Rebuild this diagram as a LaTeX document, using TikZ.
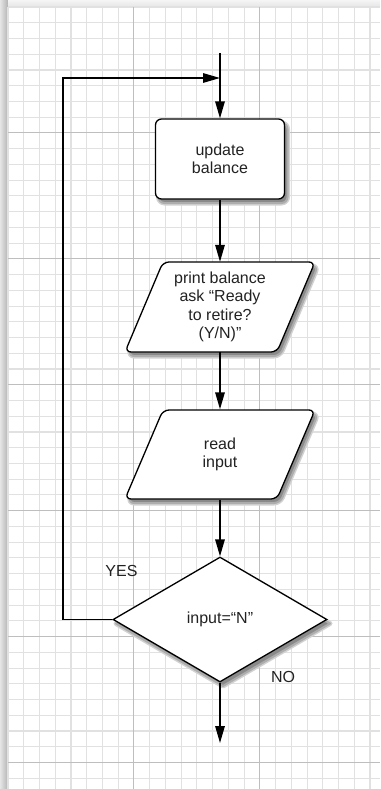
\documentclass[tikz,border=0pt]{standalone}
\usepackage{fontspec}
\setmainfont{Liberation Sans}
\usetikzlibrary{arrows.meta,shapes.geometric,calc}
\definecolor{minorgrid}{HTML}{E1E1E1}
\definecolor{majorgrid}{HTML}{BEBEBE}
\definecolor{inktext}{HTML}{222222}
\definecolor{shadowdark}{HTML}{8A8A8A}
\definecolor{shadowlight}{HTML}{D2D2D2}
\tikzset{
  flowline/.style={line width=1.5pt, draw=black},
  arr/.style={flowline, -{Triangle[length=17pt,width=9.5pt]}},
  shadowhalo/.style={draw=shadowlight, line width=5pt, line join=round},
  shadowcore/.style={fill=shadowdark, draw=shadowdark!70!white, line width=2pt, line join=round},
  txt/.style={font=\fontsize{16}{18.3}\selectfont, text=inktext, align=center},
  procbox/.style={txt, draw=black, line width=1.3pt, fill=white, rounded corners=6pt, minimum width=129pt, minimum height=80pt, inner sep=0pt},
  iotext/.style={txt, inner sep=0pt, minimum width=114pt, minimum height=90pt},
  iofill/.style={draw=black, line width=1.3pt, fill=white, rounded corners=6pt},
  decision/.style={txt, diamond, draw=black, line width=1.3pt, fill=white, aspect=1.7, minimum width=214pt, minimum height=125pt, inner sep=0pt},
  lbl/.style={txt, inner sep=0pt},
  minorline/.style={draw=minorgrid, line width=1.1pt},
  majorline/.style={draw=majorgrid, line width=1.1pt},
}
\begin{document}
\begin{tikzpicture}[x=1pt,y=-1pt]
\useasboundingbox (0,0) rectangle (380,789);
% paper and grid
\fill[white] (0,0) rectangle (380,789);
\shade[left color=black!10, right color=black!30] (0,0) rectangle (8,789);
\shade[top color=black!4, bottom color=black!10] (8,0) rectangle (380,7);
\foreach \k in {0,...,23} {
  \pgfmathsetmacro\xx{8+\k*15.74}
  \draw[minorline] (\xx,7) -- (\xx,789);
}
\foreach \k in {0,...,49} {
  \pgfmathsetmacro\yy{7+\k*15.74}
  \draw[minorline] (8,\yy) -- (380,\yy);
}
\foreach \k in {8,16} {
  \pgfmathsetmacro\xx{8+\k*15.74}
  \draw[majorline] (\xx,7) -- (\xx,789);
}
\foreach \k in {8,16,24,32,40,48} {
  \pgfmathsetmacro\yy{7+\k*15.74}
  \draw[majorline] (8,\yy) -- (380,\yy);
}

% drop shadows (offset right and down)
\path[shadowhalo, rounded corners=6pt] (158.5,123) rectangle (287.5,203);
\path[shadowhalo, rounded corners=6pt] (166,266) -- (318,266) -- (280,356) -- (128,356) -- cycle;
\path[shadowhalo, rounded corners=6pt] (166,414) -- (318,414) -- (280,503) -- (128,503) -- cycle;
\path[shadowhalo] (223,561) -- (330,623.5) -- (223,686) -- (116,623.5) -- cycle;
\path[shadowcore, rounded corners=6pt] (158.5,123) rectangle (287.5,203);
\path[shadowcore, rounded corners=6pt] (166,266) -- (318,266) -- (280,356) -- (128,356) -- cycle;
\path[shadowcore, rounded corners=6pt] (166,414) -- (318,414) -- (280,503) -- (128,503) -- cycle;
\path[shadowcore] (223,561) -- (330,623.5) -- (223,686) -- (116,623.5) -- cycle;

% parallelogram outlines
\path[iofill] (163,262) -- (315,262) -- (277,352) -- (125,352) -- cycle;
\path[iofill] (163,410) -- (315,410) -- (277,499) -- (125,499) -- cycle;

% nodes
\coordinate (start) at (220,53);
\coordinate (merge) at (220,78);
\node[procbox] (upd) at (220,159) {update\\balance};
\node[iotext] (p1) at (220,307) {print balance\\ask “Ready\\to retire?\\(Y/N)”};
\node[iotext] (p2) at (220,454.5) {read\\input};
\node[decision] (dec) at (220,619.5) {input=“N”};
\coordinate (loopB) at (63,619.5);
\coordinate (loopT) at (63,78);
\coordinate (finish) at (220,743);
\node[lbl] (yes) at (121.5,571) {YES};
\node[lbl] (no) at (283,677) {NO};

% connectors
\draw[flowline] (start) -- (merge);
\draw[arr] (merge) -- (upd.north);
\draw[arr] (upd.south) -- (p1.north);
\draw[arr] (p1.south) -- (p2.north);
\draw[arr] (p2.south) -- (dec.north);
\draw[arr] (dec.south) -- (finish);
\draw[arr] (dec.west) -- (loopB) -- (loopT) -- (merge);
\end{tikzpicture}
\end{document}
